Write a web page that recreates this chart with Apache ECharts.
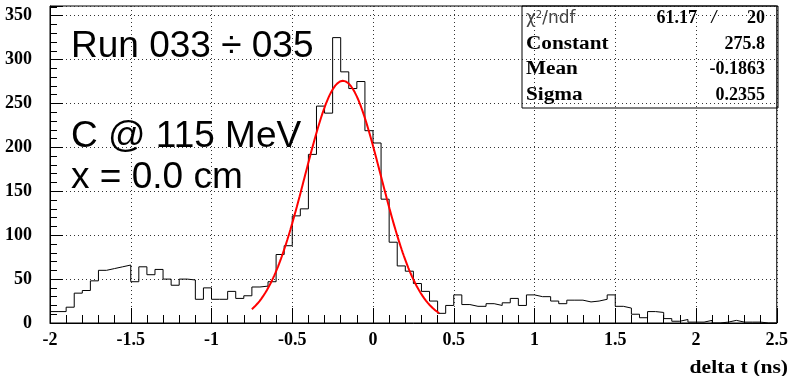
<!DOCTYPE html>
<html>
<head>
<meta charset="utf-8">
<script src="https://cdn.jsdelivr.net/npm/echarts@6/dist/echarts.min.js"></script>
<style>
  html, body { margin: 0; padding: 0; background: #fff; }
  #chart { width: 791px; height: 376px; }
</style>
</head>
<body>
<div id="chart"></div>
<script>
// Histogram binning of delta t (ns)
const xMin = -2;
const xMax = 2.5;
const binWidth = 0.05;

// Entries per bin, 90 bins from -2 to 2.5
const counts = [
  13, 13, 18, 34, 37, 48, 60, 62, 64, 66,
  47, 64, 55, 61, 50, 43, 50, 49, 27, 40,
  27, 27, 36, 28, 31, 41, 42, 47, 78, 88,
  122, 130, 192, 247, 239, 325, 286, 267, 275, 219,
  205, 141, 92, 65, 59, 45, 36, 25, 11, 20,
  32, 21, 19, 19, 22, 20, 23, 28, 20, 32,
  30, 30, 25, 22, 26, 26, 24, 25, 27, 32,
  19, 17, 10, 6, 13, 12, 5, 2, 4, 1,
  1, 3, 0, 1, 3, 1, 1, 1, 0, 0
];

// Gaussian fit result
const fitConstant = 275.8;
const fitMean = -0.1863;
const fitSigma = 0.2355;
const fitRange = [-0.75, 0.41];
const chi2Text = '61.17';
const ndfText = '20';

// Stats box rows
const statNames = ['Constant', 'Mean', 'Sigma'];
const statValues = ['275.8', '-0.1863', '0.2355'];

// Annotation lines
const annotations = ['Run 033 \u00f7 035', 'C @ 115 MeV', 'x = 0.0 cm'];

// Axis setup
const yMax = 361;
const xTickStep = 0.5;
const yTickStep = 50;
const xTitle = 'delta t (ns)';

// Step outline: one point at each bin's low edge, closed at xMax
const histData = counts.map((c, i) => [xMin + i * binWidth, c]);
histData.push([xMax, counts[counts.length - 1]]);

// Fit curve evaluated from the fitted parameters
const fitData = [];
const nFit = 200;
for (let i = 0; i <= nFit; i++) {
  const x = fitRange[0] + (fitRange[1] - fitRange[0]) * i / nFit;
  const z = (x - fitMean) / fitSigma;
  fitData.push([x, fitConstant * Math.exp(-0.5 * z * z)]);
}

const statFont = 'bold 18px "Liberation Serif", "Times New Roman", serif';

const chart = echarts.init(document.getElementById('chart'), null, { renderer: 'canvas' });

const gridBox = { left: 50, top: 6, right: 13, bottom: 53 };
const boxLeft = 522, boxTop = 6, boxRight = 778, rowH = 25.5;

const graphics = [];
// Annotation text (baselines of the three lines)
const annBase = [57, 147, 188];
annotations.forEach((t, i) => {
  graphics.push({
    type: 'text', x: 71, y: annBase[i], z: 10,
    style: { text: t, font: '37px "Liberation Sans", Arial, sans-serif', fill: '#000',
             align: 'left', verticalAlign: 'bottom', lineHeight: 37, padding: [0, 0, -8, 0] }
  });
});
// Stats box frame
graphics.push({
  type: 'rect', z: 10,
  shape: { x: boxLeft, y: boxTop, width: boxRight - boxLeft, height: rowH * 4 },
  style: { fill: 'none', stroke: '#000', lineWidth: 1 }
});
// chi2/ndf row
graphics.push({
  type: 'text', z: 11, x: boxLeft + 4, y: boxTop + rowH * 0.5,
  style: {
    text: '{c|\u03c7}{s|2}{c|/ndf}',
    verticalAlign: 'middle', align: 'left',
    rich: {
      c: { font: '17px "DejaVu Sans", sans-serif', fill: '#444' },
      s: { font: '10px "DejaVu Sans", sans-serif', fill: '#444', verticalAlign: 'top', padding: [0, 0, 6, 0] }
    }
  }
});
graphics.push({
  type: 'text', z: 11, x: 697, y: boxTop + rowH * 0.5,
  style: { text: chi2Text, font: statFont, fill: '#000', align: 'right', verticalAlign: 'middle' }
});
graphics.push({
  type: 'text', z: 11, x: 714, y: boxTop + rowH * 0.5,
  style: { text: '/', font: 'bold italic 18px "Liberation Serif", serif', fill: '#000', align: 'center', verticalAlign: 'middle' }
});
graphics.push({
  type: 'text', z: 11, x: 765, y: boxTop + rowH * 0.5,
  style: { text: ndfText, font: statFont, fill: '#000', align: 'right', verticalAlign: 'middle' }
});
statNames.forEach((name, i) => {
  const cy = boxTop + rowH * (i + 1.5);
  graphics.push({
    type: 'text', z: 11, x: boxLeft + 4, y: cy, scaleX: 1.18,
    style: { text: name, font: statFont, fill: '#000', align: 'left', verticalAlign: 'middle' }
  });
  graphics.push({
    type: 'text', z: 11, x: 765, y: cy,
    style: { text: statValues[i], font: statFont, fill: '#000', align: 'right', verticalAlign: 'middle' }
  });
});
// Axis title
graphics.push({
  type: 'text', z: 11, x: 788, y: 368, scaleX: 1.2,
  style: { text: xTitle, font: 'bold 18px "Liberation Serif", serif', fill: '#000', align: 'right', verticalAlign: 'middle' }
});

const dotted = { color: '#333', width: 1, type: [1, 3] };

chart.setOption({
  animation: false,
  backgroundColor: '#fff',
  grid: Object.assign({ show: true, borderColor: '#000', borderWidth: 1, backgroundColor: 'transparent' }, gridBox),
  xAxis: {
    type: 'value', min: xMin, max: xMax, interval: xTickStep,
    axisLine: { show: true, onZero: false, lineStyle: { color: '#000', width: 1 } },
    axisTick: { show: true, inside: true, length: 15, lineStyle: { color: '#000' } },
    minorTick: { show: true, splitNumber: 5, length: 8, lineStyle: { color: '#000' } },
    splitLine: { show: true, lineStyle: dotted },
    axisLabel: { color: '#000', fontFamily: 'Liberation Serif', fontWeight: 'bold', fontSize: 18, margin: 8 }
  },
  yAxis: {
    type: 'value', min: 0, max: yMax, interval: yTickStep,
    axisLine: { show: true, onZero: false, lineStyle: { color: '#000', width: 1 } },
    axisTick: { show: true, inside: true, length: 13, lineStyle: { color: '#000' } },
    minorTick: { show: true, splitNumber: 5, length: 7, lineStyle: { color: '#000' } },
    splitLine: { show: true, lineStyle: dotted },
    axisLabel: { color: '#000', fontFamily: 'Liberation Serif', fontWeight: 'bold', fontSize: 18, margin: 18, showMaxLabel: false }
  },
  series: [
    {
      type: 'line', data: histData, step: 'end', symbol: 'none',
      lineStyle: { color: '#000', width: 1 }, z: 3
    },
    {
      type: 'line', data: fitData, smooth: false, symbol: 'none',
      lineStyle: { color: '#ff0000', width: 2 }, z: 4
    }
  ],
  graphic: graphics
});
</script>
</body>
</html>
